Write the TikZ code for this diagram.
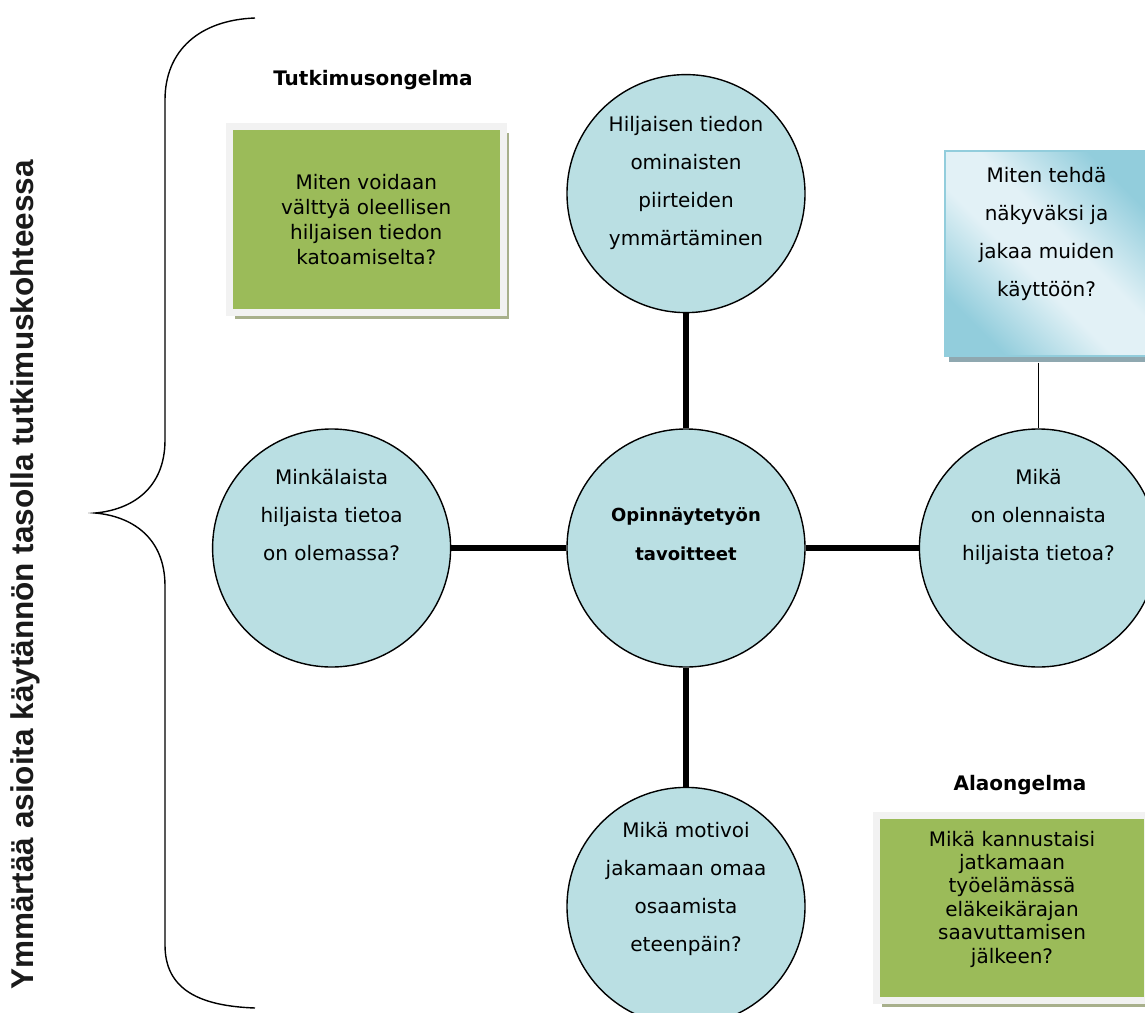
\documentclass[tikz,border=0pt]{standalone}
\usepackage{fontspec}
\setmainfont{DejaVu Sans}
\newfontfamily\sidefont{Liberation Sans}
\usetikzlibrary{positioning, shadows}
\definecolor{bubblefill}{RGB}{186, 223, 227}
\definecolor{olivegreen}{RGB}{155, 187, 89}
\definecolor{framegrey}{RGB}{242, 242, 242}
\definecolor{oliveshadow}{RGB}{168, 176, 140}
\definecolor{aquadark}{RGB}{146, 205, 220}
\definecolor{aqualight}{RGB}{226, 241, 246}
\definecolor{aquashadow}{RGB}{143, 168, 176}
\definecolor{sidetext}{RGB}{26, 26, 26}
\pgfdeclareverticalshading{aquaglow}{100bp}{color(0bp)=(aquadark); color(25bp)=(aquadark); color(44bp)=(aqualight); color(56bp)=(aqualight); color(75bp)=(aquadark); color(100bp)=(aquadark)}
\tikzset{
    bubble/.style={circle, draw=black, line width=0.7pt, fill=bubblefill, minimum size=119pt, inner sep=0pt, align=center, font=\fontsize{10pt}{19pt}\selectfont},
    hubble/.style={bubble, font=\bfseries\fontsize{9pt}{19.5pt}\selectfont},
    questbox/.style={rectangle, draw=framegrey, line width=3.5pt, fill=olivegreen, inner sep=0pt, align=center, font=\fontsize{10pt}{12.5pt}\selectfont, drop shadow={fill=oliveshadow, opacity=1, shadow xshift=2.75pt, shadow yshift=-3.25pt}},
    sharebox/.style={rectangle, draw=aquadark, line width=0.6pt, shade, shading=aquaglow, shading angle=-45, inner sep=0pt, align=center, font=\fontsize{10pt}{19pt}\selectfont, drop shadow={fill=aquashadow, opacity=1, shadow xshift=2pt, shadow yshift=-3pt}},
    heading/.style={font=\bfseries\fontsize{10pt}{12pt}\selectfont},
    sidenote/.style={rotate=90, text=sidetext, font=\sidefont\bfseries\fontsize{15.75pt}{18pt}\selectfont},
    spoke/.style={line width=3pt},
    tie/.style={line width=0.6pt},
    brace/.style={line width=0.7pt}
}

\begin{document}
\begin{tikzpicture}[x=0.5pt, y=-0.5pt, node distance=57.5pt]
    \useasboundingbox (0,0) rectangle (1145,1012);
    \clip (0,0) rectangle (1145,1012);

    \node (hub) [hubble, text depth=14pt] at (686,548) {Opinnäytetyön\\tavoitteet};
    \node (topq) [bubble, above=of hub, text depth=13pt] {Hiljaisen tiedon\\ominaisten\\piirteiden\\ymmärtäminen};
    \node (leftq) [bubble, left=of hub, text depth=33pt] {Minkälaista\\hiljaista tietoa\\on olemassa?};
    \node (rightq) [bubble, right=56.5pt of hub, text depth=33pt] {Mikä\\on olennaista\\hiljaista tietoa?};
    \node (bottomq) [bubble, below=59.5pt of hub, text depth=20pt] {Mikä motivoi\\jakamaan omaa\\osaamista\\eteenpäin?};

    \node (shareq) [sharebox, minimum width=101.5pt, minimum height=102.5pt, text depth=22pt] at (1046.5,253.5) {Miten tehdä\\näkyväksi ja\\jakaa muiden\\käyttöön?};

    \node (mainlabel) [heading] at (373,80) {Tutkimusongelma};
    \node (mainq) [questbox, minimum width=136.75pt, minimum height=93pt] at (366.25,219.5) {Miten voidaan\\välttyä oleellisen\\hiljaisen tiedon\\katoamiselta?};

    \node (sublabel) [heading] at (1020,785) {Alaongelma};
    \node (subq) [questbox, minimum width=135.5pt, minimum height=92.5pt, text depth=11pt, font=\fontsize{10pt}{11.7pt}\selectfont] at (1012,908) {Mikä kannustaisi\\jatkamaan\\työelämässä\\eläkeikärajan\\saavuttamisen\\jälkeen?};

    \node (side) [sidenote] at (25,575) {Ymmärtää asioita käytännön tasolla tutkimuskohteessa};

    \draw [spoke] (hub) -- (topq);
    \draw [spoke] (hub) -- (leftq);
    \draw [spoke] (hub) -- (rightq);
    \draw [spoke] (hub) -- (bottomq);
    \draw [tie] ([yshift=-3pt]shareq.south -| rightq.north) -- (rightq.north);

    % curly bracket on the left
    \draw [brace] (255,18) .. controls (200,20) and (165,50) .. (165,100) -- (165,440)
        .. controls (165,490) and (130,510) .. (95,513)
        .. controls (130,516) and (165,536) .. (165,586) -- (165,945)
        .. controls (165,990) and (200,1006) .. (255,1008);
\end{tikzpicture}
\end{document}
